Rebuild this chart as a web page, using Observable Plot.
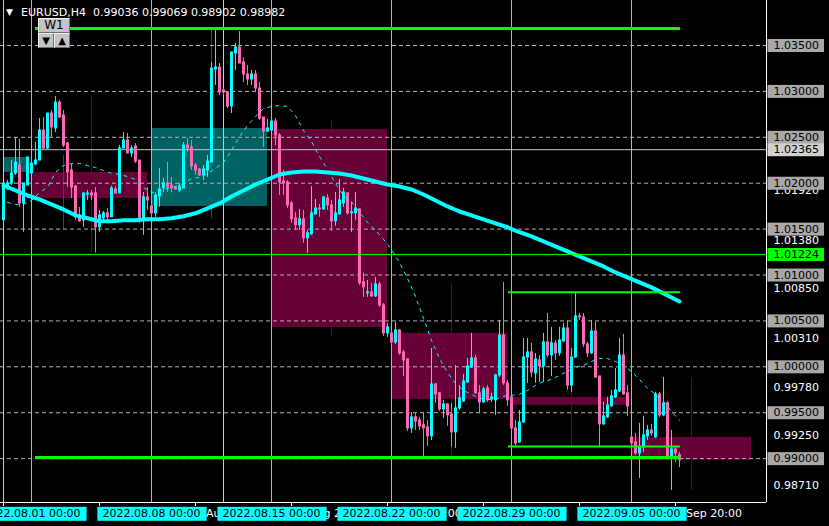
<!DOCTYPE html>
<html><head><meta charset="utf-8">
<script src="https://cdn.jsdelivr.net/npm/d3@7"></script>
<script src="https://cdn.jsdelivr.net/npm/@observablehq/plot@0.6"></script>
<style>
html,body{margin:0;padding:0;background:#000;}
#wrap{position:relative;width:829px;height:526px;overflow:hidden;background:#000;font-family:"DejaVu Sans",sans-serif;}
#wrap svg{display:block;}
#tri{position:absolute;left:6px;top:6px;color:#fff;font-size:9px;line-height:12px;}
#title{position:absolute;left:21px;top:5px;color:#fff;font-size:11px;line-height:16px;white-space:pre;}
.btn{position:absolute;background:#c4c4c4;border:1px solid;border-color:#f0f0f0 #707070 #707070 #f0f0f0;box-sizing:border-box;color:#000;text-align:center;}
</style></head><body><div id="wrap"></div>
<script>
// ---- Data: EURUSD H4 candles, bar index 0 = 2022.08.01 00:00 (30 bars per week)
const firstBar = -7;
const open = [
1.01596,1.01953,1.01997,1.02106,1.02193,1.01780,1.01975,1.02106,1.02204,1.02247,
1.02574,1.02378,1.02759,1.02596,1.02879,1.02738,1.02432,1.02138,1.01964,1.01629,
1.01596,1.01877,1.01888,1.01888,1.01520,1.01618,1.01672,1.01629,1.01932,1.01888,
1.02378,1.02465,1.02324,1.02400,1.02247,1.01596,1.01845,1.01747,1.01672,1.01856,
1.01943,1.01997,1.01975,1.01953,1.01921,1.01943,1.02410,1.02389,1.02193,1.02149,
1.02084,1.02138,1.02225,1.03239,1.03260,1.03010,1.02988,1.02836,1.03413,1.03478,
1.03315,1.03184,1.03130,1.03184,1.03032,1.02716,1.02563,1.02574,1.02672,1.02520,
1.02019,1.02008,1.01780,1.01618,1.01542,1.01607,1.01400,1.01444,1.01661,1.01725,
1.01714,1.01834,1.01758,1.01585,1.01661,1.01780,1.01888,1.01672,1.01672,1.01714,
1.00920,1.00800,1.00811,1.00767,1.00898,1.00669,1.00364,1.00364,1.00266,1.00396,
1.00157,1.00080,0.99329,0.99449,0.99416,0.99362,0.99340,0.99242,0.99808,0.99711,
0.99536,0.99590,0.99481,0.99286,0.99547,0.99623,0.99830,0.99993,1.00091,0.99711,
0.99612,0.99765,0.99645,0.99634,0.99906,1.00342,0.99819,0.99667,0.99329,0.99177,
0.99394,1.00102,1.00157,0.99928,1.00070,1.00004,1.00266,1.00124,1.00255,1.00146,
1.00277,1.00418,0.99797,1.00102,1.00549,1.00538,1.00244,1.00146,1.00385,0.99895,
0.99373,0.99449,0.99569,0.99667,0.99732,1.00124,0.99711,0.99231,0.99177,0.99057,
0.99122,0.99242,0.99307,0.99231,0.99700,0.99471,0.99601,0.99024,0.99100,0.99036];
const high = [
1.02008,1.02030,1.02247,1.02498,1.02476,1.01997,1.02280,1.02443,1.02443,1.02705,
1.02716,1.02759,1.02792,1.02945,1.02901,1.02792,1.02443,1.02214,1.01975,1.01736,
1.01899,1.01921,1.01921,1.01953,1.01703,1.01692,1.01725,1.01964,1.01964,1.02410,
1.02552,1.02541,1.02410,1.02432,1.02247,1.01899,1.01953,1.01769,1.01899,1.02160,
1.02051,1.02225,1.02062,1.01964,1.01997,1.02443,1.02487,1.02465,1.02214,1.02160,
1.02193,1.02302,1.03315,1.03674,1.03304,1.03032,1.02988,1.03424,1.03522,1.03652,
1.03369,1.03282,1.03228,1.03228,1.03097,1.02716,1.02694,1.02705,1.02705,1.02541,
1.02138,1.02030,1.01801,1.01683,1.01714,1.01703,1.01487,1.01964,1.01823,1.01769,
1.01856,1.01877,1.01812,1.01899,1.02040,1.01943,1.01899,1.01790,1.01899,1.01725,
1.01019,1.00941,1.00909,1.00975,1.00920,1.00690,1.00472,1.00385,1.00483,1.00407,
1.00179,1.00091,0.99503,0.99503,0.99449,0.99503,0.99416,1.00200,0.99819,0.99721,
0.99634,0.99601,0.99601,1.00015,0.99797,0.99917,1.00091,1.00364,1.00124,0.99797,
0.99776,0.99797,0.99711,0.99917,1.00505,1.00920,0.99852,0.99689,0.99416,0.99525,
1.00309,1.00309,1.00255,1.00146,1.00124,1.00364,1.00582,1.00429,1.00287,1.00429,
1.00472,1.00505,1.00200,1.00800,1.00582,1.00582,1.00266,1.00505,1.00483,0.99895,
0.99612,0.99667,0.99743,0.99982,1.00309,1.00353,0.99797,0.99253,0.99275,0.99384,
0.99460,0.99362,0.99373,0.99721,0.99721,0.99884,0.99623,0.99307,0.99122,0.99069];
const low = [
1.01563,1.01921,1.01975,1.02084,1.01736,1.01466,1.01964,1.02106,1.02193,1.02247,
1.02356,1.02356,1.02498,1.02552,1.02705,1.02389,1.01953,1.01834,1.01596,1.01574,
1.01520,1.01812,1.01812,1.01237,1.01466,1.01596,1.01596,1.01629,1.01877,1.01888,
1.02378,1.02324,1.02280,1.02214,1.01563,1.01433,1.01703,1.01640,1.01629,1.01736,
1.01899,1.01899,1.01899,1.01921,1.01899,1.01943,1.02334,1.02138,1.02084,1.02073,
1.02030,1.02062,1.02225,1.03064,1.02955,1.02955,1.02814,1.02759,1.03228,1.03304,
1.03097,1.03064,1.03064,1.02988,1.02683,1.02389,1.02552,1.02563,1.02410,1.01866,
1.01866,1.01725,1.01563,1.01487,1.01487,1.01346,1.01237,1.01433,1.01650,1.01629,
1.01703,1.01703,1.01476,1.01531,1.01650,1.01736,1.01650,1.01466,1.01596,1.00887,
1.00756,1.00756,1.00756,1.00756,1.00647,1.00331,1.00320,1.00233,1.00244,1.00124,
0.99895,0.99296,0.99275,0.99307,0.99307,0.99013,0.99133,0.99198,0.99601,0.99514,
0.99438,0.99351,0.99122,0.99111,0.99525,0.99612,0.99819,0.99982,0.99700,0.99492,
0.99601,0.99612,0.99612,0.99471,0.99884,0.99797,0.99569,0.99296,0.99133,0.99166,
0.99384,0.99819,0.99884,0.99819,0.99830,0.99830,1.00102,0.99895,1.00070,1.00113,
1.00266,0.99743,0.99721,1.00091,1.00505,1.00211,1.00102,1.00135,0.99874,0.99122,
0.99362,0.99438,0.99558,0.99656,0.99721,0.99689,0.99460,0.99057,0.99035,0.98784,
0.99068,0.99198,0.99242,0.99220,0.99449,0.99460,0.99002,0.98654,0.98959,0.98902];
const close = [
1.01997,1.01997,1.02106,1.02225,1.01780,1.01997,1.02280,1.02214,1.02247,1.02574,
1.02378,1.02759,1.02607,1.02879,1.02716,1.02410,1.02117,1.01953,1.01629,1.01585,
1.01888,1.01888,1.01866,1.01520,1.01650,1.01672,1.01629,1.01943,1.01888,1.02378,
1.02465,1.02324,1.02378,1.02236,1.01596,1.01845,1.01812,1.01672,1.01866,1.01932,
1.01997,1.01953,1.01943,1.01932,1.01964,1.02410,1.02378,1.02182,1.02138,1.02084,
1.02149,1.02236,1.03249,1.03260,1.02988,1.02988,1.02836,1.03424,1.03478,1.03304,
1.03184,1.03130,1.03184,1.03032,1.02705,1.02563,1.02596,1.02672,1.02520,1.02008,
1.01997,1.01758,1.01607,1.01542,1.01607,1.01400,1.01455,1.01672,1.01725,1.01714,
1.01845,1.01758,1.01585,1.01672,1.01812,1.01899,1.01672,1.01683,1.01725,1.00909,
1.00865,1.00811,1.00767,1.00898,1.00669,1.00364,1.00429,1.00266,1.00396,1.00146,
1.00070,0.99329,0.99449,0.99405,0.99351,0.99329,0.99242,0.99808,0.99700,0.99536,
0.99590,0.99471,0.99286,0.99547,0.99656,0.99841,1.00004,1.00091,0.99711,0.99612,
0.99754,0.99634,0.99667,0.99906,1.00342,0.99819,0.99634,0.99329,0.99166,0.99394,
1.00102,1.00157,0.99939,1.00080,1.00004,1.00266,1.00124,1.00255,1.00146,1.00287,
1.00418,0.99797,1.00102,1.00549,1.00538,1.00244,1.00146,1.00385,0.99884,0.99373,
0.99460,0.99580,0.99678,0.99743,1.00124,0.99700,0.99569,0.99166,0.99057,0.99122,
0.99253,0.99307,0.99275,0.99700,0.99471,0.99601,0.99013,0.99100,0.99057,0.98982];

// Slow moving average (thick line), read at bar positions
const slowMABar = [-7,-4,-1,2,5,8,11,14,17,20,23,26,29,32,35,38,41,44,47,50,53,56,59,62,65,68,71,74,77,80,
  83,86,89,92,95,98,101,104,107,110,113,116,119,122,125,128,131,134,137,140,143,146,149,152,155,158,161,162];
const slowMA = [1.01975,1.01921,1.01866,1.01823,1.01769,1.01714,1.01650,1.01618,1.01585,1.01585,
  1.01596,1.01596,1.01607,1.01607,1.01618,1.01640,1.01672,1.01725,1.01780,1.01856,
  1.01921,1.01986,1.02040,1.02095,1.02117,1.02128,1.02128,1.02117,1.02106,1.02084,
  1.02051,1.02019,1.01986,1.01964,1.01932,1.01877,1.01812,1.01747,1.01692,1.01650,
  1.01607,1.01563,1.01520,1.01466,1.01420,1.01366,1.01311,1.01257,1.01202,1.01148,
  1.01093,1.01028,1.00974,1.00919,1.00865,1.00800,1.00734,1.00712];
// Fast moving average (dotted line)
const fastMABar = [-6,-4,-2,0,2,4,6,8,10,12,14,16,18,20,22,24,26,28,30,32,34,36,38,40,42,44,46,48,50,52,
  54,56,58,60,62,64,66,68,70,72,74,76,78,80,82,84,86,88,90,92,94,96,98,100,102,104,106,108,110,112,
  114,116,118,120,122,124,126,128,130,132,134,136,138,140,142,144,146,148,150,152,154,156,158,160,162];
const fastMA = [1.01790,1.01769,1.01769,1.01812,1.01899,1.01953,1.02117,1.02193,1.02214,1.02214,
  1.02193,1.02171,1.02138,1.02106,1.02095,1.02073,1.02040,1.01953,1.01899,1.01910,
  1.01943,1.01964,1.01997,1.02051,1.02062,1.02106,1.02160,1.02225,1.02356,1.02509,
  1.02628,1.02726,1.02814,1.02836,1.02846,1.02836,1.02737,1.02574,1.02454,1.02291,
  1.02149,1.01997,1.01866,1.01801,1.01683,1.01574,1.01487,1.01389,1.01278,1.01136,
  1.00962,1.00767,1.00527,1.00287,1.00091,0.99939,0.99819,0.99743,0.99700,0.99656,
  0.99645,0.99645,0.99678,0.99689,0.99700,0.99743,0.99797,0.99841,0.99863,0.99906,
  0.99950,0.99993,1.00015,1.00058,1.00091,1.00091,1.00058,1.00015,0.99950,0.99863,
  0.99765,0.99700,0.99623,0.99514,0.99416];

// Weekly (W1) candles overlaid as boxes
const weekStart = [-7, 0, 30, 60, 90, 120, 150];
const weekEnd   = [-1, 29, 59, 89, 119, 149, 180];
const weekOpen  = [1.02117, 1.02117, 1.01747, 1.02585, 1.00364, 0.99667, 0.99231];
const weekClose = [1.02280, 1.01834, 1.02596, 1.00429, 0.99645, 0.99580, 0.98982];
const weekHigh  = [1.02300, 1.02945, 1.03674, 1.02683, 1.00909, 1.00800, 0.99874];
const weekLow   = [1.01500, 1.01245, 1.01618, 1.00331, 0.99024, 0.99133, 0.98654];

// Horizontal line objects
const lineLevel = [1.03685, 0.99013, 1.00811, 0.99133, 1.01224];
const lineFrom  = [1, 1, 119.25, 119.25, -7.75];
const lineTo    = [162.25, 162.25, 162.25, 162.25, 183.75];
const lineWidth = [3, 3, 2, 2, 1];
const greyLevel = 1.02365;

// Grid / axis
const gridPrices = [1.035, 1.030, 1.025, 1.020, 1.015, 1.010, 1.005, 1.000, 0.995, 0.990];
const autoPrices = [1.0192, 1.0138, 1.0085, 1.0031, 0.9978, 0.9925, 0.9871];
const greenLabel = 1.01224;
const sepBars = [0, 30, 60, 90, 120, 150];
const sepLabels = ["2022.08.01 00:00","2022.08.08 00:00","2022.08.15 00:00","2022.08.22 00:00","2022.08.29 00:00","2022.09.05 00:00"];
const vlineBars = [-7, 48];
const tickBars = [-7, 17, 41, 65, 89, 113, 137, 161];
const tickLabels = ["28 Jul 20:00","3 Aug 20:00","9 Aug 20:00","15 Aug 20:00","19 Aug 20:00","25 Aug 20:00","31 Aug 20:00","6 Sep 20:00"];

const xDomain = [-7.75, 183.75];
const yDomain = [0.985219, 1.039902];

const candles = open.map((o, k) => ({bar: firstBar + k, o, h: high[k], l: low[k], c: close[k]}));
const weeks = weekStart.map((s, k) => ({s, e: weekEnd[k], o: weekOpen[k], c: weekClose[k], h: weekHigh[k], l: weekLow[k], mid: s + 15}));
const slow = slowMABar.map((b, k) => ({bar: b, v: slowMA[k]}));
const fast = fastMABar.map((b, k) => ({bar: b, v: fastMA[k]}));
const hlines = lineLevel.map((p, k) => ({p, from: lineFrom[k], to: lineTo[k], w: lineWidth[k]}));

const UP = "#00ffff", DOWN = "#ff69b4";
const col = d => d.c >= d.o ? UP : DOWN;
const wcol = d => d.c >= d.o ? "#006262" : "#660036";
const fmt = d => d.toFixed(5);

const plot = Plot.plot({
  width: 829, height: 526,
  marginLeft: 0, marginRight: 63, marginTop: 0, marginBottom: 24,
  x: {domain: xDomain, axis: null},
  y: {domain: yDomain, axis: null},
  style: {background: "#000", color: "#fff", fontFamily: "DejaVu Sans", fontSize: "11px", overflow: "visible"},
  marks: [
    Plot.rect(weeks, {x1: "s", x2: "e", y1: "o", y2: "c", fill: wcol}),
    Plot.ruleX(weeks, {x: "mid", y1: "l", y2: "h", stroke: wcol}),
    Plot.ruleY(gridPrices, {stroke: "#b4b4b4", strokeDasharray: "4,3"}),
    Plot.ruleY([greyLevel], {stroke: "#c8c8c8"}),
    Plot.ruleX(vlineBars, {stroke: "#c8c8c8"}),
    Plot.ruleX(sepBars, {stroke: "#00ffff"}),
    Plot.ruleX(candles, {x: "bar", y1: "l", y2: "h", stroke: col}),
    Plot.rect(candles, {x1: d => d.bar - 0.25, x2: d => d.bar + 0.5, y1: "o", y2: "c", fill: col, insetTop: -0.5, insetBottom: -0.5}),
    Plot.line(slow, {x: "bar", y: "v", stroke: "#00ffff", strokeWidth: 4}),
    Plot.line(fast, {x: "bar", y: "v", stroke: "#00ffff", strokeWidth: 1, strokeDasharray: "3,5"}),
    Plot.ruleY(hlines, {y: "p", x1: "from", x2: "to", stroke: "#00ff00", strokeWidth: "w"}),
    Plot.ruleX([xDomain[1]], {stroke: "#fff"}),
    Plot.ruleY([yDomain[0]], {stroke: "#fff"}),
    // bottom axis ticks + regular labels
    Plot.tickX(tickBars, {x: d => d, stroke: "#fff", insetTop: 502, insetBottom: -4}),
    Plot.text(tickBars, {x: d => d, frameAnchor: "bottom", dy: 7, lineAnchor: "top", textAnchor: "start", text: (d, i) => tickLabels[i], fill: "#fff", fontSize: 11}),
    // period separator labels (cyan boxes)
    Plot.text(sepBars, {x: d => d, frameAnchor: "bottom", dy: 7, lineAnchor: "top", text: (d, i) => sepLabels[i], fill: "#000", fontSize: 11}),
    // right axis labels
    Plot.text(autoPrices, {y: d => d, frameAnchor: "right", dx: 7, textAnchor: "start", text: fmt, fill: "#fff", fontSize: 11}),
    Plot.text(gridPrices, {y: d => d, frameAnchor: "right", dx: 7, textAnchor: "start", text: fmt, fill: "#000", fontSize: 11}),
    Plot.text([greyLevel], {y: d => d, frameAnchor: "right", dx: 7, textAnchor: "start", text: fmt, fill: "#000", fontSize: 11}),
    Plot.text([greenLabel], {y: d => d, frameAnchor: "right", dx: 7, textAnchor: "start", text: fmt, fill: "#000", fontSize: 11})
  ]
});

const wrap = document.getElementById("wrap");
wrap.append(plot);

// label background boxes, chosen by the label's text
const bgFor = new Map();
sepLabels.forEach(s => bgFor.set(s, ["#00ffff", 5, 6, 0.5]));
gridPrices.forEach(p => bgFor.set(fmt(p), ["#a8a8a8", 6, 5, 0]));
bgFor.set(fmt(greyLevel), ["#d0d0d0", 6, 5, 0]);
bgFor.set(fmt(greenLabel), ["#00ff00", 6, 5, 0]);
plot.querySelectorAll("text").forEach(t => {
  const spec = bgFor.get(t.textContent.trim());
  if (!spec) return;
  const [fill, padL, padR, padY] = spec;
  const b = t.getBBox();
  const r = document.createElementNS("http://www.w3.org/2000/svg", "rect");
  r.setAttribute("x", b.x - padL);
  r.setAttribute("y", b.y - padY);
  r.setAttribute("width", b.width + padL + padR);
  r.setAttribute("height", b.height + 2 * padY);
  r.setAttribute("fill", fill);
  const tr = t.getAttribute("transform");
  if (tr) r.setAttribute("transform", tr);
  t.parentNode.insertBefore(r, t);
});

// Overlays: chart header and W1 control buttons
const tri = document.createElement("div"); tri.id = "tri"; tri.textContent = "▼"; wrap.append(tri);
const title = document.createElement("div"); title.id = "title";
title.textContent = "EURUSD,H4  0.99036 0.99069 0.98902 0.98982"; wrap.append(title);
function btn(txt, l, t, w, h, fs) {
  const b = document.createElement("div"); b.className = "btn"; b.textContent = txt;
  Object.assign(b.style, {left: l + "px", top: t + "px", width: w + "px", height: h + "px", fontSize: fs + "px", lineHeight: (h - 2) + "px"});
  wrap.append(b);
}
btn("W1", 38, 18, 32, 15, 12);
btn("▼", 38, 33, 16, 15, 10);
btn("▲", 54, 33, 16, 15, 10);
</script>
</body></html>
